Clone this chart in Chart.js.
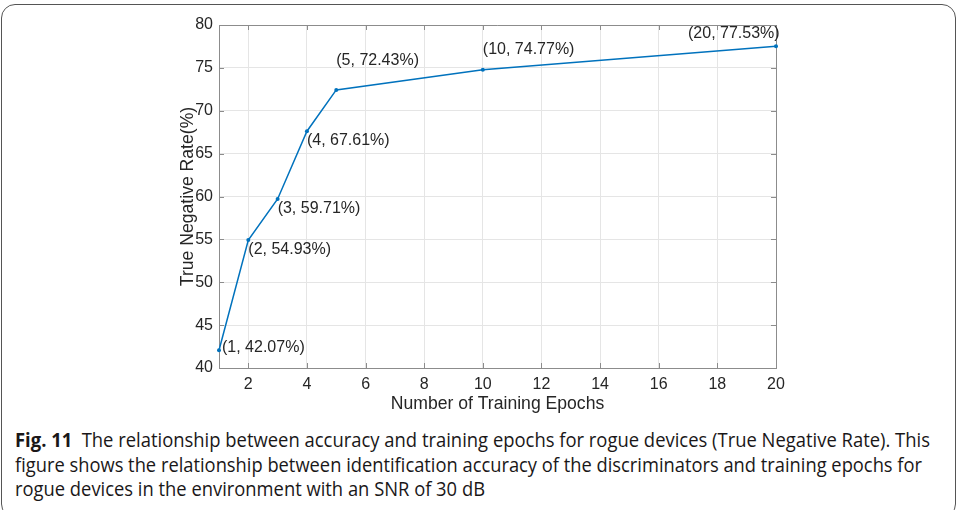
<!DOCTYPE html>
<html>
<head>
<meta charset="utf-8">
<script src="https://cdn.jsdelivr.net/npm/chart.js@4/dist/chart.umd.min.js"></script>
<style>
  html, body { margin: 0; padding: 0; background: #fff; }
  body { width: 958px; height: 510px; overflow: hidden; position: relative; }
  #frame {
    position: absolute; left: 1px; top: 4px; width: 953px; height: 512px;
    border: 1.5px solid #555; border-radius: 14px;
  }
  #wrap { position: absolute; left: 0; top: 0; width: 958px; height: 420px; }
  #caption {
    position: absolute; left: 15px; top: 428px; width: 940px;
    font-family: "Open Sans", "Noto Sans", sans-serif;
    font-size: 20px; line-height: 24.5px; color: #1a1718; white-space: nowrap;
  }
  #caption .ln { display: block; width: max-content; transform-origin: 0 50%; }
  #caption b { font-weight: bold; margin-right: 5px; }
</style>
</head>
<body>
<div id="frame"></div>
<div id="wrap"><canvas id="tnrChart" width="958" height="420"></canvas></div>
<div id="caption">
  <span class="ln" data-w="915"><b>Fig. 11</b> The relationship between accuracy and training epochs for rogue devices (True Negative Rate). This</span>
  <span class="ln" data-w="907">figure shows the relationship between identification accuracy of the discriminators and training epochs for</span>
  <span class="ln" data-w="470">rogue devices in the environment with an SNR of 30 dB</span>
</div>
<script>
// data
const epochs = [1, 2, 3, 4, 5, 10, 20];
const tnr = [42.07, 54.93, 59.71, 67.61, 72.43, 74.77, 77.53];
const xTicks = [2, 4, 6, 8, 10, 12, 14, 16, 18, 20];
const yTicks = [40, 45, 50, 55, 60, 65, 70, 75, 80];

// where each point label sits relative to its marker (px)
const labelOffsets = [[3, -3], [0, 10], [0, 10], [0, 9], [0, -29], [0, -20], [-88, -13]];

const tickFont = { family: "'Liberation Sans', Arial, sans-serif", size: 16 };
const titleFont = { family: "'Liberation Sans', Arial, sans-serif", size: 17.6 };
const textColor = "#262626";
const lineBlue = "#0072BD";

// squeeze caption lines to the widths of the printed (condensed) caption
document.querySelectorAll("#caption .ln").forEach(function (el) {
  const w = el.getBoundingClientRect().width;
  el.style.transform = "scaleX(" + (Number(el.dataset.w) / w) + ")";
});

// MATLAB style box with inward ticks
const boxPlugin = {
  id: "box",
  beforeDatasetsDraw(chart) {
    const { ctx, chartArea: a, scales } = chart;
    ctx.save();
    ctx.strokeStyle = "#8c8c8c";
    ctx.lineWidth = 1;
    ctx.beginPath();
    ctx.moveTo(a.left, a.top + 0.5);
    ctx.lineTo(a.right + 0.5, a.top + 0.5);
    ctx.lineTo(a.right + 0.5, a.bottom);
    for (let i = 0; i < xTicks.length; i++) {
      let px = Math.round(scales.x.getPixelForValue(xTicks[i])) + 0.5;
      ctx.moveTo(px, a.bottom);
      ctx.lineTo(px, a.bottom - 5);
      ctx.moveTo(px, a.top);
      ctx.lineTo(px, a.top + 5);
    }
    for (let i = 0; i < yTicks.length; i++) {
      let py = Math.round(scales.y.getPixelForValue(yTicks[i])) + 0.5;
      ctx.moveTo(a.left, py);
      ctx.lineTo(a.left + 5, py);
      ctx.moveTo(a.right, py);
      ctx.lineTo(a.right - 5, py);
    }
    ctx.stroke();
    ctx.restore();
  }
};

const pointLabels = {
  id: "pointLabels",
  afterDatasetsDraw(chart) {
    const { ctx } = chart;
    const meta = chart.getDatasetMeta(0);
    ctx.save();
    ctx.font = "16px 'Liberation Sans', Arial, sans-serif";
    ctx.fillStyle = textColor;
    ctx.textAlign = "left";
    ctx.textBaseline = "middle";
    meta.data.forEach(function (pt, i) {
      const txt = "(" + epochs[i] + ", " + tnr[i].toFixed(2) + "%)";
      ctx.fillText(txt, pt.x + labelOffsets[i][0], pt.y + labelOffsets[i][1]);
    });
    ctx.restore();
  }
};

const data = {
  datasets: [
    {
      data: epochs.map(function (e, i) { return { x: e, y: tnr[i] }; }),
      showLine: true,
      borderColor: lineBlue,
      backgroundColor: lineBlue,
      borderWidth: 1.5,
      pointRadius: 2,
      pointBorderWidth: 0,
      clip: false,
    },
  ],
};

const config = {
  type: "scatter",
  data: data,
  options: {
    responsive: false,
    animation: false,
    devicePixelRatio: 1,
    layout: { padding: { left: 160, right: 182, top: 25, bottom: 0 } },
    plugins: { legend: { display: false }, tooltip: { enabled: false } },
    scales: {
      x: {
        type: "linear",
        min: 1,
        max: 20,
        afterBuildTicks: function (scale) {
          scale.ticks = xTicks.map(function (v) { return { value: v }; });
        },
        afterFit: function (scale) { scale.height = 52; },
        grid: { color: "#e5e5e5", drawTicks: false },
        border: { color: "#8c8c8c" },
        ticks: { color: textColor, font: tickFont, padding: 7, maxRotation: 0 },
        title: {
          display: true,
          text: "Number of Training Epochs",
          color: textColor,
          font: titleFont,
          padding: { top: 0, bottom: 5 },
        },
      },
      y: {
        min: 40,
        max: 80,
        afterBuildTicks: function (scale) {
          scale.ticks = yTicks.map(function (v) { return { value: v }; });
        },
        afterFit: function (scale) { scale.width = 59; },
        grid: { color: "#e5e5e5", drawTicks: false },
        border: { color: "#8c8c8c" },
        ticks: { color: textColor, font: tickFont, padding: 6 },
        title: {
          display: true,
          text: "True Negative Rate(%)",
          color: textColor,
          font: titleFont,
          padding: { top: 17.5, bottom: 0 },
        },
      },
    },
  },
  plugins: [boxPlugin, pointLabels],
};

const tnrChart = new Chart(document.getElementById("tnrChart"), config);
</script>
</body>
</html>
